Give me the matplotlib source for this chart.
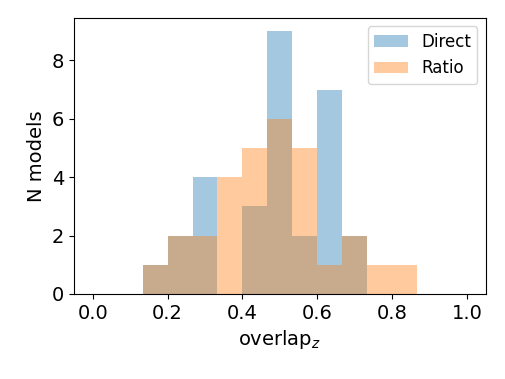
import numpy as np
import matplotlib
matplotlib.use("Agg")
import matplotlib.pyplot as plt

# histogram bins and counts
bin_edges = np.linspace(0, 1, 16)
direct_counts = [0, 0, 1, 2, 4, 0, 3, 9, 2, 7, 2, 0, 0, 0, 0]
ratio_counts = [0, 0, 1, 2, 2, 4, 5, 6, 5, 1, 2, 1, 1, 0, 0]

centers = 0.5 * (bin_edges[:-1] + bin_edges[1:])

fig = plt.figure(figsize=(5.05, 3.79), dpi=100)
ax = fig.add_axes([0.1465, 0.2243, 0.8155, 0.7282])

ax.hist(centers, bins=bin_edges, weights=direct_counts, alpha=0.4, label="Direct")
ax.hist(centers, bins=bin_edges, weights=ratio_counts, alpha=0.4, label="Ratio")

ax.set_xlabel(r"overlap$_z$", fontsize=14)
ax.set_ylabel("N models", fontsize=14)
ax.tick_params(labelsize=14)
ax.legend(fontsize=12)

fig.savefig("out.png", dpi=100)
